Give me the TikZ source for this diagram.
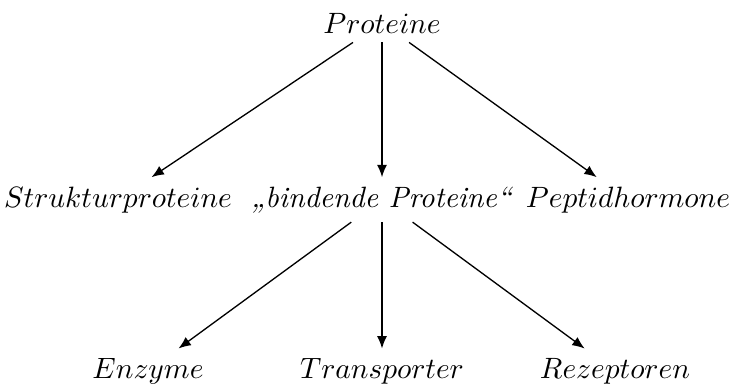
\documentclass[tikz,border=0pt]{standalone}
\usepackage{fontspec}
\usetikzlibrary{arrows.meta}
\begin{document}
\begin{tikzpicture}[x=0.34pt,y=-0.34pt,
  lbl/.style={anchor=base,inner sep=3pt},
  arr/.style={-{Latex[length=4.2pt,width=3.4pt]},line width=0.45pt}]
\useasboundingbox (0,0) rectangle (729,387);
\node[lbl] (p) at (382,33) {$Proteine$};
\node[lbl] (s) at (118,207) {$Strukturproteine$};
\node[lbl] (b) at (382,207) {\textit{„bindende Proteine“}};
\node[lbl] (h) at (628,207) {$Peptidhormone$};
\node[lbl] (e) at (148,378) {$Enzyme$};
\node[lbl] (t) at (382,378) {$Transporter$};
\node[lbl] (r) at (615,378) {$Rezeptoren$};
\draw[arr] (p) -- (s);
\draw[arr] (p) -- (b);
\draw[arr] (p) -- (h);
\draw[arr] (b) -- (e);
\draw[arr] (b) -- (t);
\draw[arr] (b) -- (r);
\end{tikzpicture}
\end{document}
